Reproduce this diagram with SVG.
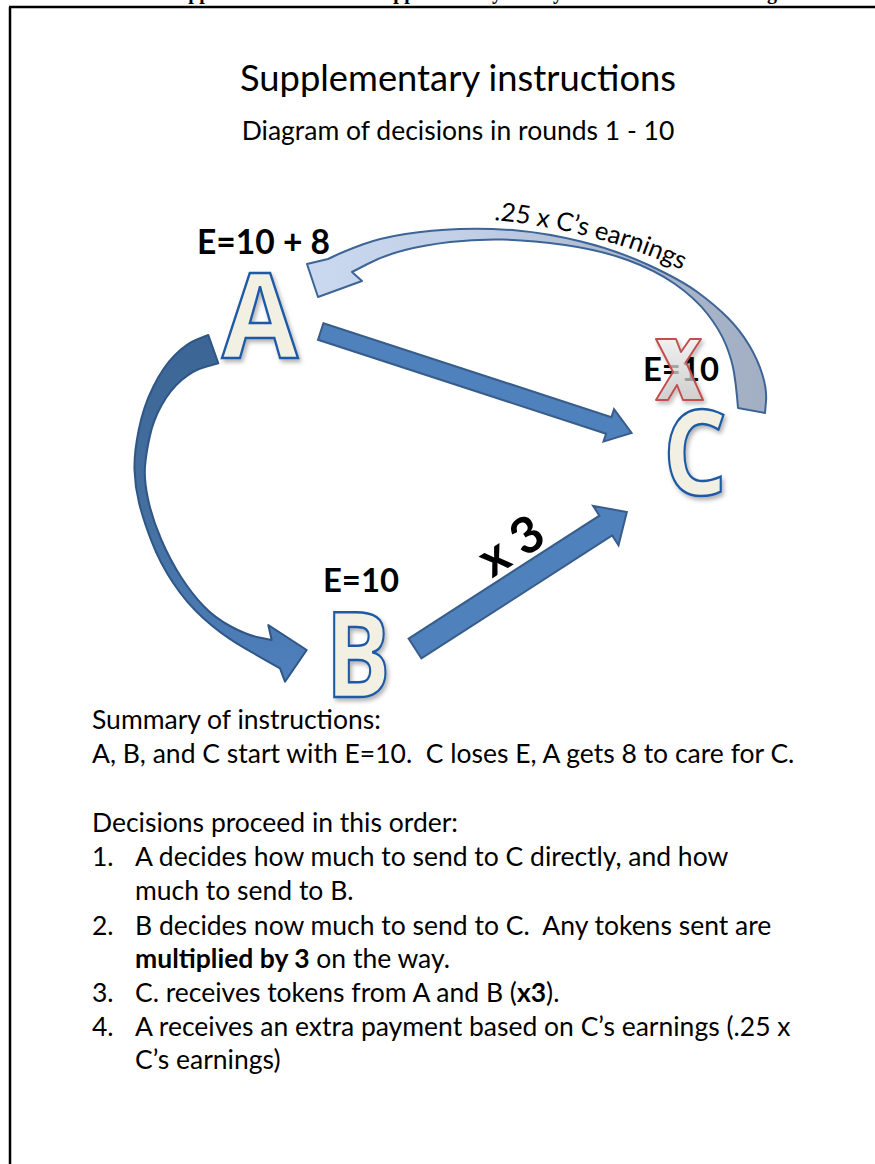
<svg xmlns="http://www.w3.org/2000/svg" width="875" height="1164" viewBox="0 0 875 1164">
<style>
.t{font-family:Lato,"Open Sans","Liberation Sans",sans-serif;fill:#000;white-space:pre}
.b{font-weight:bold}
.body{font-size:26.5px}
.e{font-family:Lato,"Open Sans","Liberation Sans",sans-serif;font-weight:bold;fill:#000}
.big{font-family:"Open Sans",Lato,sans-serif;font-weight:bold;font-size:118px;fill:#f2efe3;stroke:#1f5aa5;stroke-width:2.5;text-anchor:middle;filter:url(#sh)}
.arr{fill:#4f81bd;stroke:#385d8a;stroke-width:2;stroke-linejoin:miter}
.frame{fill:none;stroke:#000;stroke-width:2.5}
</style>
<defs>
<filter id="sh" x="-20%" y="-20%" width="150%" height="150%">
<feDropShadow dx="2" dy="3" stdDeviation="2" flood-color="#000" flood-opacity="0.3"/>
</filter>
<linearGradient id="gAB" gradientUnits="userSpaceOnUse" x1="0" y1="335" x2="0" y2="682">
<stop offset="0" stop-color="#3c6595"/>
<stop offset="0.5" stop-color="#44709f"/>
<stop offset="1" stop-color="#4f80be"/>
</linearGradient>
<linearGradient id="gCA" gradientUnits="userSpaceOnUse" x1="320" y1="0" x2="770" y2="0">
<stop offset="0" stop-color="#c9d8ef"/>
<stop offset="0.35" stop-color="#c0cee6"/>
<stop offset="0.65" stop-color="#adbad0"/>
<stop offset="1" stop-color="#a2aec2"/>
</linearGradient>
<linearGradient id="gX" x1="0" y1="0" x2="0" y2="1">
<stop offset="0" stop-color="#f4f4f4"/>
<stop offset="1" stop-color="#c8c8c8"/>
</linearGradient>
</defs>

<path class="frame" d="M9,7 H876 M10,7 V1165"/>
<text class="t b" style="font-family:'Liberation Serif',serif;font-size:20px" y="-1"><tspan x="166">Supplemental</tspan><tspan x="371">Supplementary</tspan><tspan x="513">Study</tspan><tspan x="717">Setting</tspan></text>

<g id="title">
<text class="t" x="458" y="91" font-size="36" text-anchor="middle" textLength="436" lengthAdjust="spacingAndGlyphs">Supplementary instructions</text>
<text class="t" x="458" y="140" font-size="26.5" text-anchor="middle">Diagram of decisions in rounds 1 - 10</text>
</g>

<g id="connectors">
<path id="arrow-C-A" d="M765,413 L766,401.5 Q767,390 762.5,375 Q758,360 749,345 Q740,330 727.5,317.5 Q715,305 698,292.5 Q681,280 648.5,265 Q616,250 581,241.5 Q546,233 517,230.5 Q488,228 459.5,229 Q431,230 405.5,234 Q380,238 362.5,244.5 Q345,251 336.5,255 L328,259 L307,264 L318,297 L362,281 L352,272 L368.5,263.5 Q385,255 405,250 Q425,245 450,242 Q475,239 502.5,239.5 Q530,240 565,245 Q600,250 627.5,260 Q655,270 675,284 Q695,298 707.5,314 Q720,330 726,345 Q732,360 734,372.5 Q736,385 737,396.5 L738,408 Z" fill="url(#gCA)" stroke="#3d6496" stroke-width="2" stroke-linejoin="round"/>
<path id="arrow-A-B" d="M208.3,335 L197.5,339.2 Q186.7,343.3 175,355 Q163.3,366.7 153.3,386.7 Q143.3,406.7 138.7,430 Q134,453.3 134.5,470 Q135,486.7 139.2,503.4 Q143.3,520 151.7,541.7 Q160,563.3 173.4,583.3 Q186.7,603.3 203.4,618.3 Q220,633.3 236.7,643.3 Q253.3,653.3 266.7,660.8 L280,668.3 L285,681.7 L306.7,650 L268.3,625 L271.7,640 L259.2,637.5 Q246.7,635 230.9,626.5 Q215,618 203.5,606 Q192,594 181,577 Q170,560 161,539 Q152,518 148,499 Q144,480 145,466.7 Q146,453.3 149.7,436.7 Q153.3,420 161.7,405 Q170,390 181.7,380 Q193.3,370 205.8,366.7 L218.3,363.3 Z" fill="url(#gAB)" stroke="#2f5686" stroke-width="2" stroke-linejoin="round"/>
<polygon id="arrow-A-C" class="arr" transform="translate(320.7,331.5) rotate(18.06)" points="0,-8.7 303,-8.7 303,-17 327,0 303,17 303,8.7 0,8.7"/>
<polygon id="arrow-B-C" class="arr" transform="translate(415,648.5) rotate(-32.8)" points="0,-11.8 227,-11.8 227,-23.5 252,0 227,23.5 227,11.8 0,11.8"/>
<path id="lblpath" d="M494,220 Q612,232 702,280" fill="none"/>
<text class="t" font-size="25.5"><textPath href="#lblpath">.25 x C’s earnings</textPath></text>
<text class="e" font-size="50" text-anchor="middle" transform="translate(511,546) rotate(-33)" x="0" y="17">x 3</text>
</g>

<g id="node-A">
<text class="e" x="197" y="254" font-size="34" textLength="133" lengthAdjust="spacingAndGlyphs">E=10 + 8</text>
<text class="big" x="260" y="358" textLength="76" lengthAdjust="spacingAndGlyphs">A</text>
</g>

<g id="node-B">
<text class="e" x="323" y="592" font-size="33" textLength="76" lengthAdjust="spacingAndGlyphs">E=10</text>
<text class="big" x="358" y="697" textLength="65" lengthAdjust="spacingAndGlyphs">B</text>
</g>

<g id="node-C">
<text class="e" x="643" y="381" font-size="33" textLength="76" lengthAdjust="spacingAndGlyphs">E=10</text>
<polygon points="656,339 676,339 681,352 690,339 701,339 686,362 703,400 683,400 677,385 668,400 656,400 673,372" fill="url(#gX)" fill-opacity="0.7" stroke="#c0504d" stroke-width="2" stroke-linejoin="round" filter="url(#sh)"/>
<text class="big" x="695" y="495" textLength="64" lengthAdjust="spacingAndGlyphs">C</text>
</g>

<g id="summary">
<text class="t body" x="92" y="729">Summary of instructions:</text>
<text class="t body" x="92" y="763">A, B, and C start with E=10.  C loses E, A gets 8 to care for C.</text>
<text class="t body" x="92" y="832">Decisions proceed in this order:</text>
<text class="t body" x="92" y="866">1.</text>
<text class="t body" x="135" y="866">A decides how much to send to C directly, and how</text>
<text class="t body" x="135" y="900">much to send to B.</text>
<text class="t body" x="92" y="935">2.</text>
<text class="t body" x="135" y="935">B decides now much to send to C.  Any tokens sent are</text>
<text class="t body" x="135" y="968"><tspan class="b">multiplied by 3</tspan> on the way.</text>
<text class="t body" x="92" y="1002">3.</text>
<text class="t body" x="135" y="1002">C. receives tokens from A and B (<tspan class="b">x3</tspan>).</text>
<text class="t body" x="92" y="1036">4.</text>
<text class="t body" x="135" y="1036">A receives an extra payment based on C’s earnings (.25 x</text>
<text class="t body" x="135" y="1069">C’s earnings)</text>
</g>
</svg>
